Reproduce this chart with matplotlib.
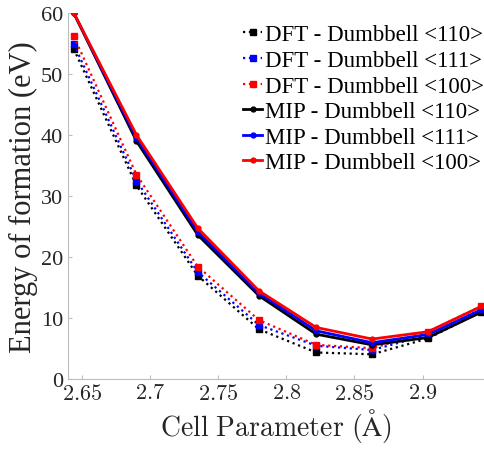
import numpy as np
import matplotlib
matplotlib.use('Agg')
import matplotlib.pyplot as plt

plt.rcParams['font.family'] = ['Liberation Serif', 'DejaVu Serif']
plt.rcParams['mathtext.fontset'] = 'cm'

# cell parameter (Angstrom)
a = [2.644, 2.690, 2.735, 2.780, 2.822, 2.863, 2.904, 2.943]

# DFT formation energies (eV)
dft_110 = [54.1, 31.7, 16.9, 8.1, 4.3, 4.0, 6.6, 11.0]
dft_111 = [54.9, 32.5, 17.5, 8.8, 5.4, 4.7, 7.2, 11.4]
dft_100 = [56.2, 33.5, 18.4, 9.6, 5.55, 5.0, 7.7, 11.9]

# MIP formation energies (eV)
mip_110 = [60.0, 39.0, 23.6, 13.6, 7.3, 5.55, 6.75, 10.9]
mip_111 = [60.0, 39.5, 24.1, 14.0, 7.85, 5.9, 7.25, 11.3]
mip_100 = [60.0, 40.0, 24.7, 14.4, 8.4, 6.5, 7.7, 11.85]

xticks = [2.65, 2.7, 2.75, 2.8, 2.85, 2.9]
xticklabels = ['2.65', '2.7', '2.75', '2.8', '2.85', '2.9']
yticks = [0, 10, 20, 30, 40, 50, 60]

fig = plt.figure(figsize=(4.85, 4.52), dpi=100)
ax = fig.add_axes([0.140, 0.160, 0.859, 0.809])

ax.plot(a, dft_110, ':', color='k', lw=1.6, marker='s', ms=4, label='DFT - Dumbbell <110>')
ax.plot(a, dft_111, ':', color='b', lw=1.6, marker='s', ms=4, label='DFT - Dumbbell <111>')
ax.plot(a, dft_100, ':', color='r', lw=1.6, marker='s', ms=4, label='DFT - Dumbbell <100>')
ax.plot(a, mip_110, '-', color='k', lw=2.0, marker='o', ms=3.5, label='MIP - Dumbbell <110>')
ax.plot(a, mip_111, '-', color='b', lw=2.0, marker='o', ms=3.5, label='MIP - Dumbbell <111>')
ax.plot(a, mip_100, '-', color='r', lw=2.0, marker='o', ms=3.5, label='MIP - Dumbbell <100>')

ax.set_xlim(2.6397, 2.9455)
ax.set_ylim(0, 60)
ax.set_xticks(xticks)
ax.set_xticklabels(['$' + s + '$' for s in xticklabels])
ax.set_yticks(yticks)

for s in ['top', 'right']:
    ax.spines[s].set_visible(False)
for s in ['left', 'bottom']:
    ax.spines[s].set_color('#bdbdbd')
    ax.spines[s].set_linewidth(0.8)
ax.tick_params(direction='in', length=3, color='#bdbdbd', labelsize=16, labelcolor='#262626')

ax.set_xlabel(r'$\mathrm{Cell\ Parameter\ (\AA)}$', fontsize=20, color='#262626', labelpad=2)
ax.set_ylabel('Energy of formation (eV)', fontsize=22, color='#262626', labelpad=2)

leg = ax.legend(loc='upper right', bbox_to_anchor=(0.998, 0.944), bbox_transform=fig.transFigure,
                frameon=False, fontsize=16.5, handlelength=0.85, handletextpad=0.12,
                labelspacing=0.2, borderaxespad=0, borderpad=0)

fig.savefig('out.png', dpi=100)
